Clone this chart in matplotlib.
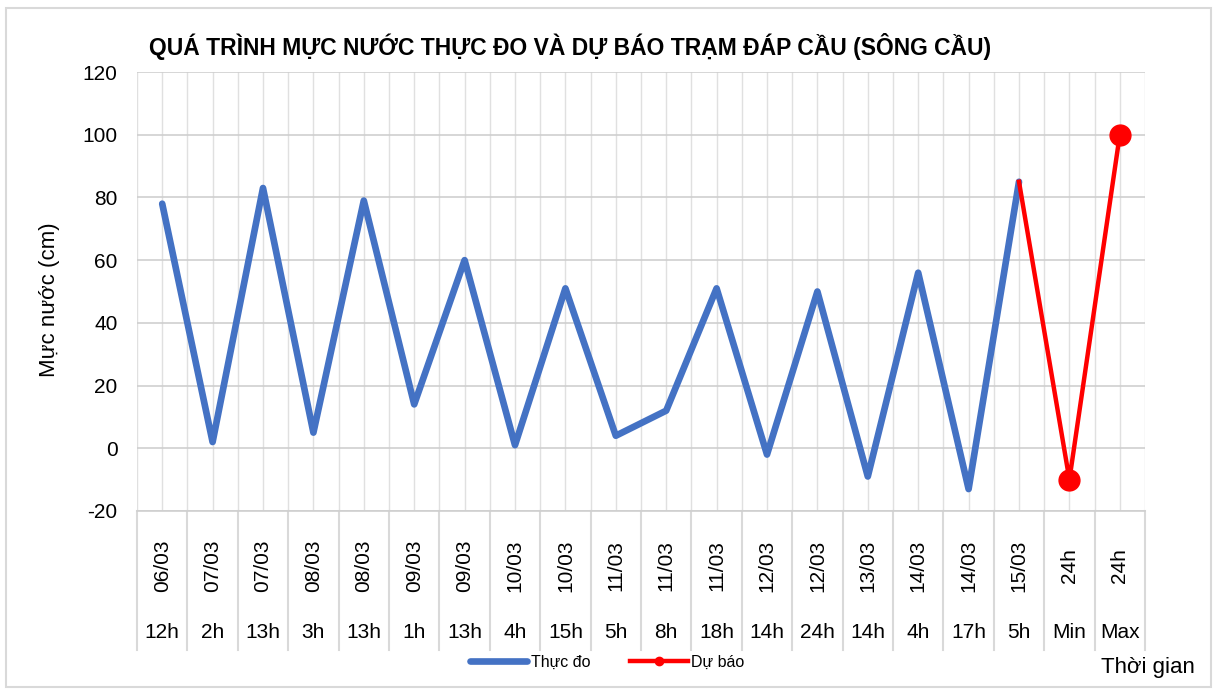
import matplotlib
matplotlib.use("Agg")
import matplotlib.pyplot as plt
import matplotlib.transforms as mtransforms
from matplotlib.patches import Rectangle
from matplotlib.lines import Line2D
import numpy as np

dates = ["06/03", "07/03", "07/03", "08/03", "08/03", "09/03", "09/03", "10/03", "10/03",
         "11/03", "11/03", "11/03", "12/03", "12/03", "13/03", "14/03", "14/03", "15/03",
         "24h", "24h"]
hours = ["12h", "2h", "13h", "3h", "13h", "1h", "13h", "4h", "15h", "5h", "8h", "18h",
         "14h", "24h", "14h", "4h", "17h", "5h", "Min", "Max"]
observed = [78, 2, 83, 5, 79, 14, 60, 1, 51, 4, 12, 51, -2, 50, -9, 56, -13, 85]
forecast_idx = [17, 18, 19]
forecast = [85, -10, 100]

FONT = ['Liberation Sans', 'DejaVu Sans']
plt.rcParams['font.family'] = FONT
plt.rcParams['axes.unicode_minus'] = False

W, H = 1217, 693
fig = plt.figure(figsize=(W / 100, H / 100), dpi=100)
fig.patches.append(Rectangle((6 / W, 6 / H), 1 - 12 / W, 1 - 14 / H, transform=fig.transFigure,
                             fill=False, edgecolor="#d9d9d9", linewidth=1.5))

left, right, top, bottom = 137, 1145, 72, 511
ax = fig.add_axes([left / W, 1 - bottom / H, (right - left) / W, (bottom - top) / H])

n = len(hours)
x = np.arange(n)
ax.set_xlim(-0.5, n - 0.5)
ax.set_ylim(-20, 120)
ax.set_yticks(np.arange(-20, 121, 20))
ax.set_xticks(np.arange(-0.5, n, 0.5))
ax.set_xticklabels([])
ax.tick_params(axis='x', length=0)
ax.tick_params(axis='y', length=0, pad=14, labelsize=15)
ax.grid(True, axis='x', color="#e0e0e0", linewidth=1)
ax.grid(True, axis='y', color="#cfcfcf", linewidth=1.2)
for s in ['top', 'right', 'left']:
    ax.spines[s].set_visible(False)
ax.spines['bottom'].set_color("#cfcfcf")
ax.spines['bottom'].set_linewidth(1.2)
ax.set_axisbelow(True)

ax.plot(x[:len(observed)], observed, color="#4472C4", linewidth=4.8,
        solid_capstyle='round', solid_joinstyle='round', zorder=3)
ax.plot(forecast_idx, forecast, color="#FF0000", linewidth=3.2, marker='o',
        markersize=15, markevery=[1, 2], zorder=4)

trans = mtransforms.blended_transform_factory(ax.transData, ax.transAxes)
label_bottom = -(650 - bottom) / (bottom - top)
for b in np.arange(-0.5, n, 1.0):
    ax.plot([b, b], [0, label_bottom], transform=trans, color="#d9d9d9", linewidth=1.5,
            clip_on=False)
for i in range(n):
    ax.text(i, -(566 - bottom) / (bottom - top), dates[i], transform=trans, rotation=90,
            ha='center', va='center', fontsize=15)
    ax.text(i, -(633 - bottom) / (bottom - top), hours[i], transform=trans,
            ha='center', va='center', fontsize=15)

fig.text(50 / W, 1 - 300 / H, "Mực nước (cm)", rotation=90, ha='center', va='center',
         fontsize=16)
fig.text(1148 / W, 1 - 668 / H, "Thời gian", ha='center', va='center', fontsize=16)
fig.text(570 / W, 1 - 46 / H, "QUÁ TRÌNH MỰC NƯỚC THỰC ĐO VÀ DỰ BÁO TRẠM ĐÁP CẦU (SÔNG CẦU)",
         ha='center', va='center', fontsize=16.5, fontweight='bold')

handles = [Line2D([], [], color="#4472C4", linewidth=4.8, solid_capstyle='round'),
           Line2D([], [], color="#FF0000", linewidth=3.2, marker='o', markersize=6)]
fig.legend(handles, ["Thực đo", "Dự báo"], loc='center', bbox_to_anchor=(607 / W, 1 - 662 / H),
           ncol=2, frameon=False, handlelength=3.6, fontsize=11.5, columnspacing=2.5,
           handletextpad=0.2)

fig.savefig("out.png", dpi=100)
